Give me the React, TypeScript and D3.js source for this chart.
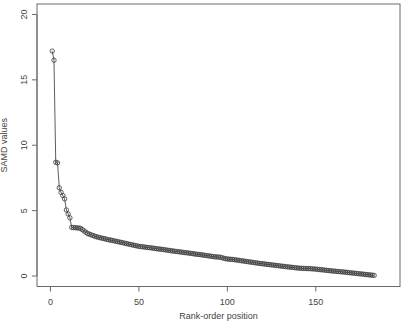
import React from "react";
import * as d3 from "d3";

const samdValues: number[] = [
  17.2, 16.5, 8.7, 8.65, 6.75, 6.4, 6.15, 5.9, 5.05, 4.75,
  4.45, 3.72, 3.7, 3.7, 3.68, 3.67, 3.65, 3.55, 3.45, 3.35,
  3.25, 3.2, 3.15, 3.1, 3.05, 3.0, 2.97, 2.93, 2.9, 2.87,
  2.84, 2.8, 2.77, 2.75, 2.72, 2.69, 2.66, 2.63, 2.6, 2.57,
  2.54, 2.51, 2.48, 2.45, 2.42, 2.39, 2.36, 2.33, 2.3, 2.27,
  2.25, 2.24, 2.22, 2.2, 2.18, 2.17, 2.15, 2.13, 2.11, 2.09,
  2.07, 2.06, 2.04, 2.02, 2.0, 1.98, 1.96, 1.94, 1.92, 1.9,
  1.88, 1.86, 1.85, 1.83, 1.81, 1.79, 1.78, 1.76, 1.74, 1.72,
  1.7, 1.68, 1.66, 1.65, 1.63, 1.61, 1.59, 1.57, 1.55, 1.53,
  1.51, 1.49, 1.47, 1.46, 1.45, 1.44, 1.4, 1.36, 1.33, 1.3,
  1.29, 1.28, 1.27, 1.25, 1.23, 1.21, 1.19, 1.17, 1.15, 1.13,
  1.11, 1.09, 1.07, 1.05, 1.03, 1.01, 0.99, 0.97, 0.95, 0.94,
  0.92, 0.9, 0.89, 0.87, 0.85, 0.84, 0.82, 0.8, 0.79, 0.77,
  0.75, 0.74, 0.72, 0.7, 0.69, 0.67, 0.66, 0.64, 0.63, 0.61,
  0.6, 0.59, 0.58, 0.58, 0.57, 0.57, 0.56, 0.55, 0.54, 0.53,
  0.51, 0.5, 0.48, 0.47, 0.45, 0.44, 0.42, 0.41, 0.39, 0.38,
  0.37, 0.35, 0.34, 0.33, 0.32, 0.3, 0.29, 0.27, 0.26, 0.24,
  0.23, 0.21, 0.2, 0.18, 0.17, 0.15, 0.14, 0.12, 0.11, 0.09,
  0.08, 0.06, 0.05,
];

const xTicks: number[] = [0, 50, 100, 150];
const yTicks: number[] = [0, 5, 10, 15, 20];
const xLabel = "Rank-order position";
const yLabel = "SAMD values";

const W = 406;
const H = 321;
const box = { left: 37, right: 400, top: 4, bottom: 286.5 };

export default function App() {
  const xDomain = [0, 190];
  const yDomain = [0, 20];
  const xPad = (xDomain[1] - xDomain[0]) * 0.04;
  const yPad = (yDomain[1] - yDomain[0]) * 0.04;
  const x = d3
    .scaleLinear()
    .domain([xDomain[0] - xPad, xDomain[1] + xPad])
    .range([box.left, box.right]);
  const y = d3
    .scaleLinear()
    .domain([yDomain[0] - yPad, yDomain[1] + yPad])
    .range([box.bottom, box.top]);

  const pts = samdValues.map((v, i) => [i + 1, v] as [number, number]);
  const line = d3
    .line<[number, number]>()
    .x((d) => x(d[0]))
    .y((d) => y(d[1]));

  const axisColor = "#6a6a6a";
  const textColor = "#444";
  const font = "Liberation Sans, Arial, Helvetica, sans-serif";

  return (
    <div style={{ position: "fixed", left: 0, top: 0, width: W, height: H, background: "#fff" }}>
      <svg width={W} height={H} style={{ display: "block" }}>
        <rect x={0} y={0} width={W} height={H} fill="#fff" />
        <rect
          x={box.left}
          y={box.top}
          width={box.right - box.left}
          height={box.bottom - box.top}
          fill="none"
          stroke={axisColor}
          strokeWidth={1}
        />
        <line
          x1={x(xTicks[0])}
          x2={x(xTicks[xTicks.length - 1])}
          y1={box.bottom}
          y2={box.bottom}
          stroke={axisColor}
        />
        {xTicks.map((t) => (
          <g key={"xt" + t}>
            <line x1={x(t)} x2={x(t)} y1={box.bottom} y2={box.bottom + 5} stroke={axisColor} />
            <text
              x={x(t)}
              y={304.5}
              textAnchor="middle"
              fontFamily={font}
              fontSize={9}
              fill={textColor}
            >
              {t}
            </text>
          </g>
        ))}
        <line
          x1={box.left}
          x2={box.left}
          y1={y(yTicks[0])}
          y2={y(yTicks[yTicks.length - 1])}
          stroke={axisColor}
        />
        {yTicks.map((t) => (
          <g key={"yt" + t}>
            <line x1={box.left - 5} x2={box.left} y1={y(t)} y2={y(t)} stroke={axisColor} />
            <text
              transform={`translate(27,${y(t)}) rotate(-90)`}
              textAnchor="middle"
              fontFamily={font}
              fontSize={9}
              fill={textColor}
            >
              {t}
            </text>
          </g>
        ))}
        <text
          x={(box.left + box.right) / 2}
          y={319}
          textAnchor="middle"
          fontFamily={font}
          fontSize={9}
          fill={textColor}
        >
          {xLabel}
        </text>
        <text
          transform={`translate(7,${(box.top + box.bottom) / 2}) rotate(-90)`}
          textAnchor="middle"
          fontFamily={font}
          fontSize={9}
          fill={textColor}
        >
          {yLabel}
        </text>
        <path d={line(pts) || ""} fill="none" stroke="#333" strokeWidth={0.8} />
        {pts.map((p, i) => (
          <circle
            key={i}
            cx={x(p[0])}
            cy={y(p[1])}
            r={2.2}
            fill="none"
            stroke="#3a3a3a"
            strokeWidth={0.8}
          />
        ))}
      </svg>
    </div>
  );
}
